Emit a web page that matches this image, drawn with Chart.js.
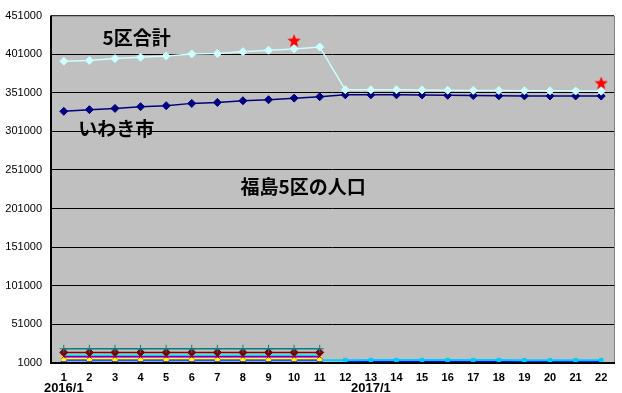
<!DOCTYPE html>
<html>
<head>
<meta charset="utf-8">
<script src="https://cdn.jsdelivr.net/npm/chart.js@4/dist/chart.umd.min.js"></script>
<style>
html,body{margin:0;padding:0;background:#fff;}
#wrap{width:622px;height:393px;}
</style>
</head>
<body>
<div id="wrap"><canvas id="c" width="622" height="393"></canvas></div>
<script>
// ---- data ----
const months = ["1","2","3","4","5","6","7","8","9","10","11","12","13","14","15","16","17","18","19","20","21","22"];
const yearLabels = {0: "2016/1", 12: "2017/1"};
const yTicks = [1000, 51000, 101000, 151000, 201000, 251000, 301000, 351000, 401000, 451000];

const total5 = [392000, 392800, 395300, 397100, 398800, 401400, 401800, 404300, 406100, 407800, 410400,
                354900, 354900, 354900, 354700, 354300, 354100, 353900, 353700, 353500, 353300, 353100];
const iwaki  = [327000, 329200, 330800, 333000, 334300, 337300, 338500, 340700, 342000, 344100, 345900,
                348400, 348400, 348400, 348200, 347800, 347400, 347100, 347000, 346900, 346900, 346800];
const N = null;
const townA = [19400,19400,19400,19400,19400,19400,19400,19400,19400,19400,19400, N,N,N,N,N,N,N,N,N,N,N];
const townB = [14700,14700,14700,14700,14700,14700,14700,14700,14700,14700,14700, N,N,N,N,N,N,N,N,N,N,N];
const townC = [11700,11700,11700,11700,11700,11700,11700,11700,11700,11700,11700, N,N,N,N,N,N,N,N,N,N,N];
const townD = [9600,9600,9600,9600,9600,9600,9600,9600,9600,9600,9600, N,N,N,N,N,N,N,N,N,N,N];
const townE = [8700,8700,8700,8700,8700,8700,8700,8700,8700,8700,8700, N,N,N,N,N,N,N,N,N,N,N];
const townF = [6500,6500,6500,6500,6500,6500,6500,6500,6500,6500,6500, N,N,N,N,N,N,N,N,N,N,N];
const townG = [5200,5200,5200,5200,5200,5200,5200,5200,5200,5200,5200, N,N,N,N,N,N,N,N,N,N,N];
const townH = [4500,4500,4500,4500,4500,4500,4500,4500,4500,4500,4500,
               4700,4800,4800,4800,4800,4800,4800,4600,4600,4600,4600];
const townI = [1500,1500,1500,1500,1500,1500,1500,1500,1500,1500,1500, N,N,N,N,N,N,N,N,N,N,N];
const townJ = [N,N,N,N,N,N,N,N,N,N,N, 2600,2600,2600,2600,2600,2600,2600,2400,2400,2400,2400];
const stars = [N,N,N,N,N,N,N,N,N,418000, N, N,N,N,N,N,N,N,N,N,N,363000];

// annotations: [text, category index, value]
const notes = [
  ["5区合計", 2.85, 422000],
  ["いわき市", 2.05, 305000],
  ["福島5区の人口", 9.35, 229000]
];

// ---- star point style ----
function makeStar(size, color){
  const cv = document.createElement('canvas');
  cv.width = size; cv.height = size;
  const g = cv.getContext('2d');
  const cx = size/2, cy = size/2, R = size/2, r = R*0.42;
  g.beginPath();
  for (let i=0;i<10;i++){
    const rad = (i%2===0)?R:r;
    const a = -Math.PI/2 + i*Math.PI/5;
    const x = cx + rad*Math.cos(a), y = cy + rad*Math.sin(a);
    if(i===0) g.moveTo(x,y); else g.lineTo(x,y);
  }
  g.closePath();
  g.fillStyle = color; g.fill();
  return cv;
}
const starImg = makeStar(14, '#FF0000');

function ds(label, data, color, style, radius, width){
  return {label, data, borderColor: color, backgroundColor: color, pointStyle: style,
    pointRadius: radius, pointHoverRadius: radius, borderWidth: width, pointBorderWidth: 1,
    spanGaps: false, tension: 0};
}

const datasets = [
  ds("5区合計", total5, "#CCFFFF", "rectRot", 4, 1.5),
  ds("いわき市", iwaki, "#000080", "rectRot", 4, 1.5),
  ds("A", townA, "#008080", "cross", 4, 1.5),
  ds("B", townB, "#800000", "rectRot", 4, 1.5),
  ds("C", townC, "#00FFFF", "circle", 0, 1.5),
  ds("D", townD, "#800080", "crossRot", 3, 1.5),
  ds("E", townE, "#FF00FF", "circle", 0, 1.5),
  ds("F", townF, "#FFFF00", "rect", 3, 1.5),
  ds("G", townG, "#0000FF", "rect", 3, 1.5),
  ds("H", townH, "#00CCFF", "rect", 2.5, 2),
  ds("I", townI, "#FF00FF", "rect", 3.5, 1.5),
  ds("J", townJ, "#0000FF", "circle", 0, 2),
  {label:"star", data: stars, pointStyle: starImg, pointRadius: 7, showLine: false,
   borderColor:'#FF0000', backgroundColor:'#FF0000'}
];

const bgPlugin = {
  id: 'bg',
  beforeDraw(chart){
    const {ctx, chartArea:a} = chart;
    ctx.save();
    ctx.fillStyle = '#C0C0C0';
    ctx.fillRect(a.left, a.top, a.right-a.left, a.bottom-a.top);
    ctx.restore();
  },
  afterDraw(chart){
    const {ctx, chartArea:a, scales} = chart;
    ctx.save();
    ctx.strokeStyle = '#808080'; ctx.lineWidth = 1;
    ctx.beginPath();
    ctx.moveTo(a.left, a.top+0.5); ctx.lineTo(a.right+0.5, a.top+0.5); ctx.lineTo(a.right+0.5, a.bottom);
    ctx.stroke();
    ctx.strokeStyle = '#000'; ctx.lineWidth = 2;
    ctx.beginPath();
    ctx.moveTo(a.left, a.top); ctx.lineTo(a.left, a.bottom); ctx.lineTo(a.right+1, a.bottom);
    ctx.stroke();
    ctx.fillStyle = '#000';
    ctx.font = 'bold 19px "Noto Sans CJK JP"';
    ctx.textAlign = 'center'; ctx.textBaseline = 'middle';
    notes.forEach(([t, xi, v]) => {
      ctx.fillText(t, scales.x.getPixelForValue(xi), scales.y.getPixelForValue(v));
    });
    ctx.font = 'bold 13px "Liberation Sans"';
    ctx.textBaseline = 'middle';
    Object.keys(yearLabels).forEach(k => {
      ctx.fillText(yearLabels[k], scales.x.getPixelForValue(+k), a.bottom + 25);
    });
    ctx.restore();
  }
};

new Chart(document.getElementById('c'), {
  type: 'line',
  data: {labels: months, datasets},
  options: {
    responsive: false,
    animation: false,
    devicePixelRatio: 1,
    layout: {padding: {top: 13, right: 8, left: 0, bottom: 0}},
    plugins: {legend: {display: false}, tooltip: {enabled: false}},
    scales: {
      x: {
        type: 'category', offset: true,
        grid: {display: false, drawTicks: false},
        border: {display: false},
        ticks: {color: '#000', font: {family: 'Liberation Sans', size: 11, weight: 'bold'}, padding: 8, maxRotation: 0, autoSkip: false},
        afterFit(s){ s.height = 30; }
      },
      y: {
        min: 1000, max: 451000,
        afterBuildTicks(s){ s.ticks = yTicks.map(v => ({value: v})); },
        grid: {color: '#000', lineWidth: 1, drawTicks: false},
        border: {display: false},
        ticks: {color: '#000', font: {family: 'Liberation Sans', size: 11}, padding: 9,
                callback: v => String(v)},
        afterFit(s){ s.width = 51; }
      }
    }
  },
  plugins: [bgPlugin]
});
</script>
</body>
</html>
